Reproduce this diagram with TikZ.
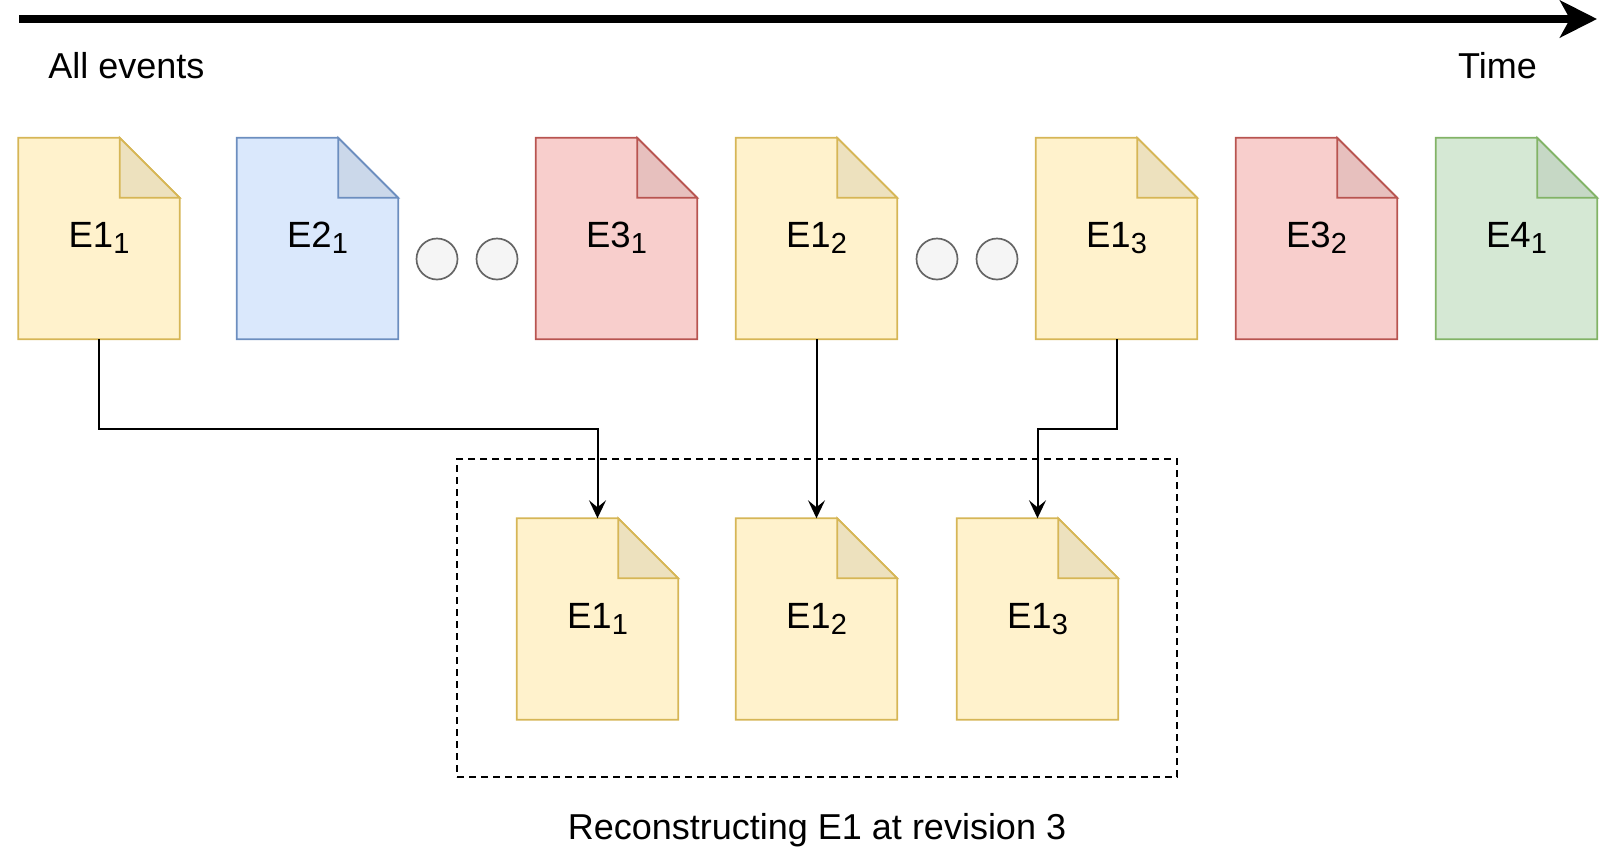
\documentclass[tikz,border=0pt]{standalone}
\usepackage{fontspec}
\setmainfont{Liberation Sans}
\usetikzlibrary{arrows.meta,backgrounds}

\definecolor{evyellow}{HTML}{FFF2CC}
\definecolor{evyellowline}{HTML}{D6B656}
\definecolor{evblue}{HTML}{DAE8FC}
\definecolor{evblueline}{HTML}{6C8EBF}
\definecolor{evred}{HTML}{F8CECC}
\definecolor{evredline}{HTML}{B85450}
\definecolor{evgreen}{HTML}{D5E8D4}
\definecolor{evgreenline}{HTML}{82B366}
\definecolor{dotfill}{HTML}{F5F5F5}
\definecolor{dotline}{HTML}{666666}

\newcommand\evsub[1]{\raisebox{-6pt}{\fontsize{29}{29}\selectfont #1}}

% folded page behind a named event node
\newcommand\evdoc[3]{%
  \filldraw[fill=#2, draw=#3, docline] (#1.north west) -- ([xshift=-60pt]#1.north east)
    -- ([yshift=-60pt]#1.north east) -- (#1.south east) -- (#1.south west) -- cycle;
  \filldraw[fill=#2!93!black, draw=#3, docline] ([xshift=-60pt]#1.north east)
    -- ([xshift=-60pt,yshift=-60pt]#1.north east) -- ([yshift=-60pt]#1.north east) -- cycle;
}

\tikzset{
  event/.style={minimum width=161pt, minimum height=201pt, inner sep=0pt,
    text height=26pt, text depth=8pt, font=\fontsize{36.5}{40}\selectfont},
  docline/.style={line width=1.7pt, line join=miter},
  dot/.style={circle, draw=dotline, fill=dotfill, line width=1.7pt, minimum size=41pt, inner sep=0pt},
  conn/.style={line width=2pt, -{Stealth[length=18pt,width=17pt,inset=7pt]}},
  caption/.style={anchor=base, inner sep=0pt, font=\fontsize{36}{40}\selectfont},
}

\begin{document}
\begin{tikzpicture}[x=1pt, y=-1pt]

  \useasboundingbox (0,0) rectangle (1616,860);

  % time line
  \coordinate (tstart) at (19,19);
  \coordinate (tend) at (1597,19);
  \draw[line width=7.7pt, -{Stealth[length=37pt,width=37pt,inset=10pt]}] (tstart) -- (tend);
  \node[caption] (allev) at (126.5,78) {All events};
  \node[caption] (time) at (1497.5,78) {Time};

  % all events
  \node[event] (e11) at (99,238.5) {E1\evsub{1}};
  \node[event] (e21) at (317.5,238.5) {E2\evsub{1}};
  \node[event] (e31) at (616.5,238.5) {E3\evsub{1}};
  \node[event] (e12) at (816.5,238.5) {E1\evsub{2}};
  \node[event] (e13) at (1116.5,238.5) {E1\evsub{3}};
  \node[event] (e32) at (1316.5,238.5) {E3\evsub{2}};
  \node[event] (e41) at (1516.5,238.5) {E4\evsub{1}};

  \node[dot] (dot1) at (437,259) {};
  \node[dot] (dot2) at (497,259) {};
  \node[dot] (dot3) at (937,259) {};
  \node[dot] (dot4) at (997,259) {};

  % revision 3 of E1
  \node[draw, dashed, dash pattern=on 7pt off 5pt, line width=1.7pt,
    minimum width=720pt, minimum height=318pt] (revbox) at (817,618) {};
  \node[event] (r11) at (597.5,619) {E1\evsub{1}};
  \node[event] (r12) at (816.5,619) {E1\evsub{2}};
  \node[event] (r13) at (1037.5,619) {E1\evsub{3}};
  \node[caption] (revcap) at (817,839) {Reconstructing E1 at revision 3};

  \begin{scope}[on background layer]
    \evdoc{e11}{evyellow}{evyellowline}
    \evdoc{e21}{evblue}{evblueline}
    \evdoc{e31}{evred}{evredline}
    \evdoc{e12}{evyellow}{evyellowline}
    \evdoc{e13}{evyellow}{evyellowline}
    \evdoc{e32}{evred}{evredline}
    \evdoc{e41}{evgreen}{evgreenline}
    \evdoc{r11}{evyellow}{evyellowline}
    \evdoc{r12}{evyellow}{evyellowline}
    \evdoc{r13}{evyellow}{evyellowline}
  \end{scope}

  \draw[conn] (e11.south) -- ++(0,90) -| (r11.north);
  \draw[conn] (e12.south) -- (r12.north);
  \draw[conn] (e13.south) -- ++(0,90) -| (r13.north);

\end{tikzpicture}
\end{document}
